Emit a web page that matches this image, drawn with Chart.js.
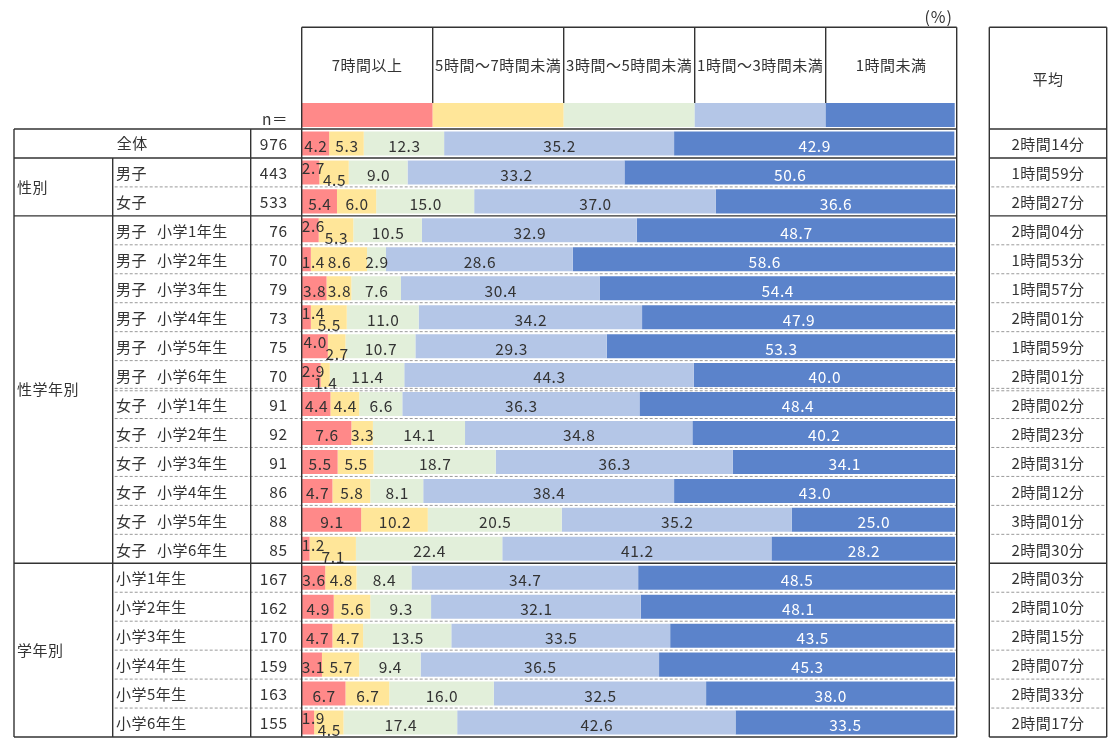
<!DOCTYPE html>
<html>
<head>
<meta charset="utf-8">
<script src="https://cdn.jsdelivr.net/npm/chart.js@4/dist/chart.umd.min.js"></script>
<style>
  body { margin: 0; background: #fff; }
  #wrap { width: 1115px; height: 748px; }
</style>
</head>
<body>
<div id="wrap"><canvas id="grafico" width="1115" height="748"></canvas></div>
<script>
// Categorias (linhas da tabela)
const grupos = ['', '性別', '性別', '性学年別', '性学年別', '性学年別', '性学年別', '性学年別', '性学年別',
    '性学年別', '性学年別', '性学年別', '性学年別', '性学年別', '性学年別',
    '学年別', '学年別', '学年別', '学年別', '学年別', '学年別'];
const categorias = ['全体', '男子', '女子',
    '男子　小学1年生', '男子　小学2年生', '男子　小学3年生', '男子　小学4年生', '男子　小学5年生', '男子　小学6年生',
    '女子　小学1年生', '女子　小学2年生', '女子　小学3年生', '女子　小学4年生', '女子　小学5年生', '女子　小学6年生',
    '小学1年生', '小学2年生', '小学3年生', '小学4年生', '小学5年生', '小学6年生'];
const amostras = [976, 443, 533, 76, 70, 79, 73, 75, 70, 91, 92, 91, 86, 88, 85, 167, 162, 170, 159, 163, 155];
const medias = ['2時間14分', '1時間59分', '2時間27分', '2時間04分', '1時間53分', '1時間57分', '2時間01分',
    '1時間59分', '2時間01分', '2時間02分', '2時間23分', '2時間31分', '2時間12分', '3時間01分', '2時間30分',
    '2時間03分', '2時間10分', '2時間15分', '2時間07分', '2時間33分', '2時間17分'];

// Séries (%)
const series = ['7時間以上', '5時間～7時間未満', '3時間～5時間未満', '1時間～3時間未満', '1時間未満'];
const mais7h = [4.2, 2.7, 5.4, 2.6, 1.4, 3.8, 1.4, 4.0, 2.9, 4.4, 7.6, 5.5, 4.7, 9.1, 1.2, 3.6, 4.9, 4.7, 3.1, 6.7, 1.9];
const de5a7h = [5.3, 4.5, 6.0, 5.3, 8.6, 3.8, 5.5, 2.7, 1.4, 4.4, 3.3, 5.5, 5.8, 10.2, 7.1, 4.8, 5.6, 4.7, 5.7, 6.7, 4.5];
const de3a5h = [12.3, 9.0, 15.0, 10.5, 2.9, 7.6, 11.0, 10.7, 11.4, 6.6, 14.1, 18.7, 8.1, 20.5, 22.4, 8.4, 9.3, 13.5, 9.4, 16.0, 17.4];
const de1a3h = [35.2, 33.2, 37.0, 32.9, 28.6, 30.4, 34.2, 29.3, 44.3, 36.3, 34.8, 36.3, 38.4, 35.2, 41.2, 34.7, 32.1, 33.5, 36.5, 32.5, 42.6];
const menos1h = [42.9, 50.6, 36.6, 48.7, 58.6, 54.4, 47.9, 53.3, 40.0, 48.4, 40.2, 34.1, 43.0, 25.0, 28.2, 48.5, 48.1, 43.5, 45.3, 38.0, 33.5];
const valores = [mais7h, de5a7h, de3a5h, de1a3h, menos1h];

// Estilo
const cores = ['#FF8989', '#FFE699', '#E2EFDA', '#B4C6E7', '#5B83CB'];
const corTexto = '#333333';
const fonteCJK = '"Noto Sans CJK JP", "Noto Sans", sans-serif';
// linhas onde os dois primeiros rótulos ficam desencontrados (acima/abaixo)
const linhasDesencontradas = [1, 3, 6, 7, 8, 14, 20];

const X_TABELA = 14, X_SUB = 112.7, X_N = 250.7, X_BARRA = 301.7, X_FIM = 956.7;
const X_MEDIA_INI = 989.3, X_MEDIA_FIM = 1106.7;
const Y_TOPO = 27.3, Y_COR = 103, Y_LINHA0 = 129;

function linha(ctx, x1, y1, x2, y2, tracejado) {
    ctx.save();
    ctx.beginPath();
    if (tracejado) {
        ctx.strokeStyle = '#9a9a9a';
        ctx.lineWidth = 1;
        ctx.setLineDash([3, 2]);
    } else {
        ctx.strokeStyle = '#333333';
        ctx.lineWidth = 1.4;
    }
    ctx.moveTo(x1, y1);
    ctx.lineTo(x2, y2);
    ctx.stroke();
    ctx.restore();
}

function texto(ctx, t, x, y, align, size, cor, espaco) {
    ctx.save();
    ctx.font = size + 'px ' + fonteCJK;
    ctx.letterSpacing = (espaco === undefined ? 0.5 : espaco) + 'px';
    ctx.fillStyle = cor || corTexto;
    ctx.textAlign = align;
    ctx.textBaseline = 'middle';
    ctx.fillText(t, x, y);
    ctx.restore();
}

// Plugin que desenha a tabela, cabeçalho e rótulos
const tabelaPlugin = {
    id: 'tabela',
    afterDatasetsDraw(chart) {
        const ctx = chart.ctx;
        const area = chart.chartArea;
        const n = categorias.length;
        const alt = (area.bottom - area.top) / n;
        const yBorda = i => area.top + i * alt;
        const colW = (X_FIM - X_BARRA) / series.length;

        // Cabeçalho
        texto(ctx, '(%)', 953, 17, 'right', 16, corTexto, 1);
        linha(ctx, X_BARRA, Y_TOPO, X_FIM, Y_TOPO);
        series.forEach((s, i) => {
            const x0 = X_BARRA + i * colW;
            ctx.fillStyle = cores[i];
            ctx.fillRect(x0, Y_COR, colW - (i === series.length - 1 ? 2 : 0), 24);
            texto(ctx, s, x0 + colW / 2, 65, 'center', 15);
            if (i > 0) linha(ctx, x0, Y_TOPO, x0, Y_COR);
        });
        texto(ctx, 'n＝', 288, 119, 'right', 15.5);
        // caixa da média
        linha(ctx, X_MEDIA_INI, Y_TOPO, X_MEDIA_FIM, Y_TOPO);
        linha(ctx, X_MEDIA_INI, Y_TOPO, X_MEDIA_INI, area.bottom);
        linha(ctx, X_MEDIA_FIM, Y_TOPO, X_MEDIA_FIM, area.bottom);
        texto(ctx, '平均', (X_MEDIA_INI + X_MEDIA_FIM) / 2, 79, 'center', 15);

        // Linhas horizontais
        for (let i = 0; i <= n; i++) {
            const y = yBorda(i);
            const grupoAntes = grupos[i - 1], grupoDepois = grupos[i];
            const solida = i === 0 || i === n || i === 1 || grupoAntes !== grupoDepois;
            if (solida) {
                linha(ctx, X_TABELA, y, X_FIM, y);
                linha(ctx, X_MEDIA_INI, y, X_MEDIA_FIM, y);
            } else if (i === 9) {
                [-1.2, 1.2].forEach(d => {
                    linha(ctx, X_SUB + 2, y + d, X_FIM, y + d, true);
                    linha(ctx, X_MEDIA_INI + 2, y + d, X_MEDIA_FIM - 2, y + d, true);
                });
            } else {
                linha(ctx, X_SUB + 2, y, X_FIM, y, true);
                linha(ctx, X_MEDIA_INI + 2, y, X_MEDIA_FIM - 2, y, true);
            }
        }
        // Linhas verticais
        linha(ctx, X_TABELA, Y_LINHA0, X_TABELA, area.bottom);
        linha(ctx, X_SUB, yBorda(1), X_SUB, area.bottom);
        linha(ctx, X_N, Y_LINHA0, X_N, area.bottom);
        linha(ctx, X_BARRA, Y_TOPO, X_BARRA, area.bottom);
        linha(ctx, X_FIM, Y_TOPO, X_FIM, area.bottom);

        // Rótulos dos grupos
        const gruposUnicos = [...new Set(grupos.filter(g => g))];
        gruposUnicos.forEach(g => {
            const ini = grupos.indexOf(g), fim = grupos.lastIndexOf(g) + 1;
            texto(ctx, g, 17, (yBorda(ini) + yBorda(fim)) / 2, 'left', 15);
        });

        // Linhas: categoria, n, média
        categorias.forEach((c, i) => {
            const yc = (yBorda(i) + yBorda(i + 1)) / 2;
            if (!grupos[i]) {
                texto(ctx, c, (X_TABELA + X_N) / 2, yc, 'center', 15);
            } else {
                const partes = c.split('　');
                texto(ctx, partes[0], 116, yc + 1, 'left', 15);
                if (partes[1]) texto(ctx, partes[1], 157, yc + 1, 'left', 15);
            }
            texto(ctx, String(amostras[i]), 288, yc + 1, 'right', 15.5, corTexto, 0.8);
            texto(ctx, medias[i], (X_MEDIA_INI + X_MEDIA_FIM) / 2, yc + 1, 'center', 15);
        });

        // Rótulos dos valores nas barras
        chart.data.datasets.forEach((ds, di) => {
            const meta = chart.getDatasetMeta(di);
            meta.data.forEach((bar, j) => {
                const v = ds.data[j];
                const t = v.toFixed(1);
                ctx.save();
                ctx.font = '15.5px ' + fonteCJK;
                ctx.letterSpacing = '0.6px';
                const w = ctx.measureText(t).width;
                ctx.restore();
                let x = (bar.x + bar.base) / 2 + 0.5;
                if (x - w / 2 < area.left) x = area.left + w / 2;
                let y = bar.y + 2.5;
                if (linhasDesencontradas.includes(j)) {
                    if (di === 0) y = bar.y - 4;
                    if (di === 1) y = bar.y + 8;
                }
                texto(ctx, t, x, y, 'center', 15.5, di === 4 ? '#ffffff' : corTexto, 0.6);
            });
        });
    }
};

const ctx = document.getElementById('grafico').getContext('2d');
new Chart(ctx, {
    type: 'bar',
    data: {
        labels: categorias,
        datasets: series.map((s, i) => ({
            label: s,
            data: valores[i],
            backgroundColor: cores[i],
            borderWidth: 0,
            barPercentage: 0.83,
            categoryPercentage: 1
        }))
    },
    options: {
        indexAxis: 'y',
        responsive: false,
        animation: false,
        layout: { padding: { left: 301.7, right: 160, top: 129, bottom: 11 } },
        scales: {
            x: { stacked: true, min: 0, max: 100, display: false },
            y: { stacked: true, display: false }
        },
        plugins: {
            legend: { display: false },
            tooltip: { enabled: false }
        }
    },
    plugins: [tabelaPlugin]
});
</script>
</body>
</html>
